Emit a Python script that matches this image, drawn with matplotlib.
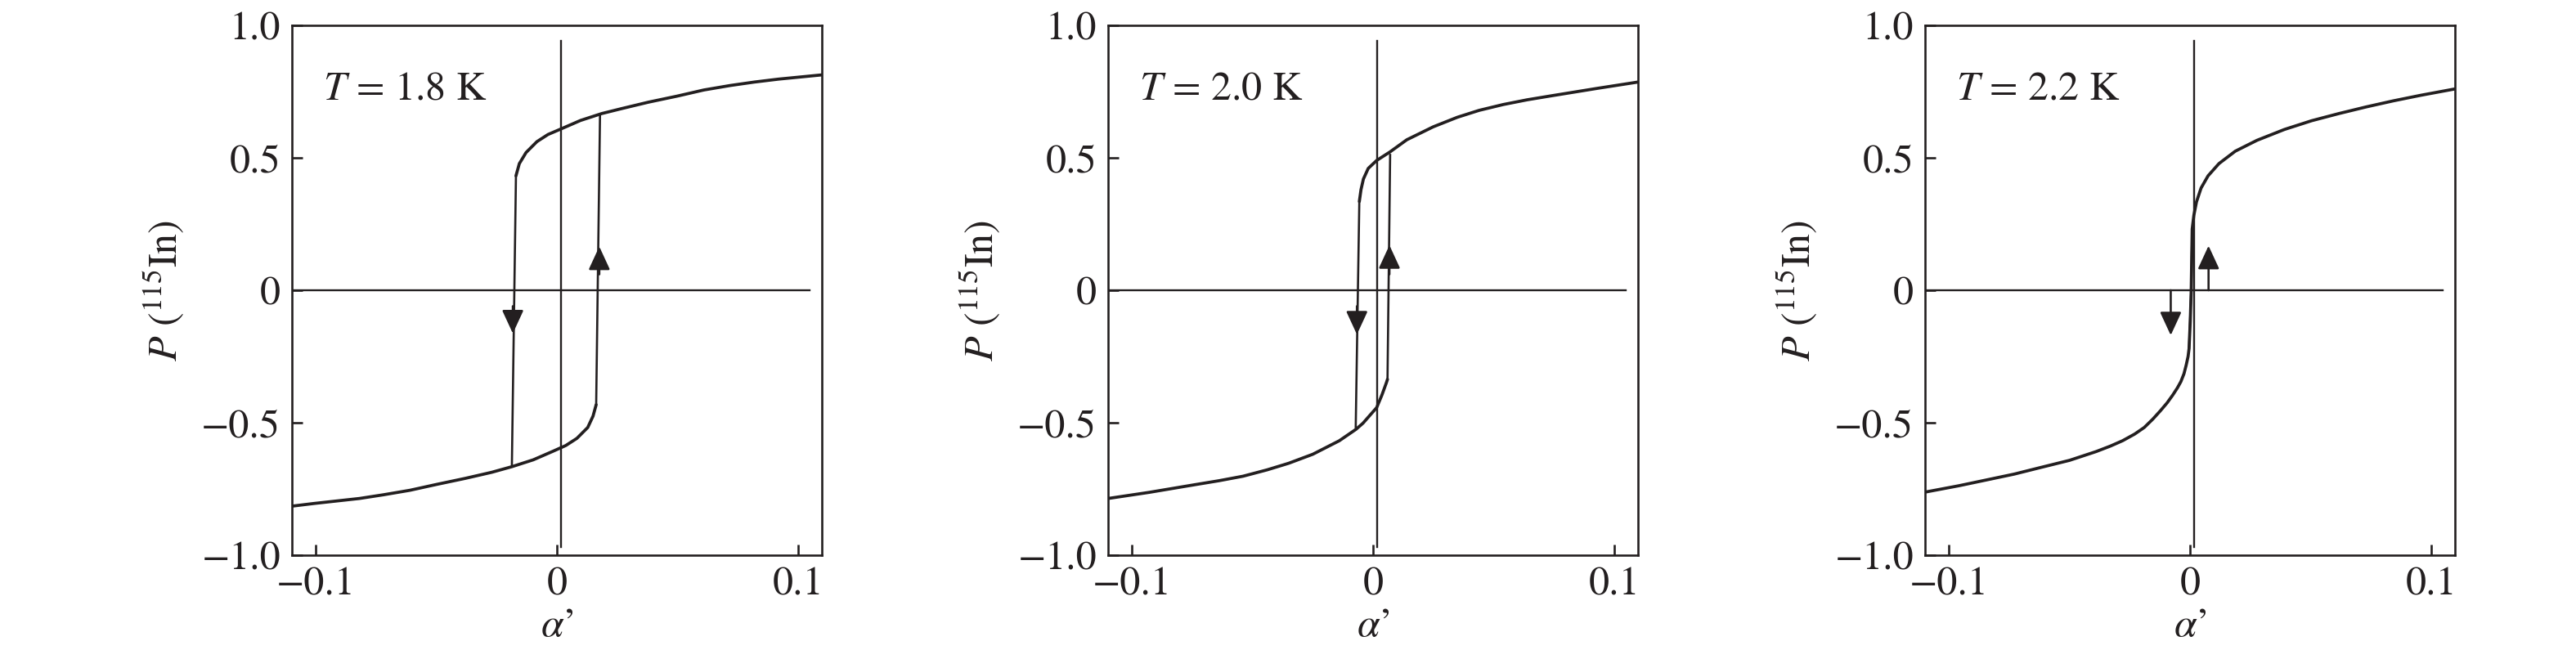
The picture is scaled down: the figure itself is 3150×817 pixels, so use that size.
import matplotlib
matplotlib.use("Agg")
import matplotlib.pyplot as plt

plt.rcParams["font.family"] = ["STIXGeneral", "DejaVu Sans"]
plt.rcParams["mathtext.fontset"] = "stix"

ink = "#231f20"

# --- Дані ---
temps = ["1.8", "2.0", "2.2"]

# гілка, що спадає (з P>0 до P<0); остання точка - кінець стрибка
down_x = [
    [0.110, 0.101, 0.092, 0.082, 0.072, 0.061, 0.050, 0.038, 0.027, 0.0186,
     0.0098, 0.0017, -0.0037, -0.0083, -0.0128, -0.0156, -0.0170, -0.0187],
    [0.110, 0.093, 0.074, 0.064, 0.054, 0.044, 0.035, 0.025, 0.014, 0.007, 0.0015,
     -0.0020, -0.0040, -0.0050, -0.0057, -0.0072],
    [0.110, 0.0958, 0.0844, 0.0731, 0.0618, 0.0505, 0.0392, 0.0278, 0.0188,
     0.0120, 0.0075, 0.0046, 0.0027, 0.0016, 0.0009, 0.0005, -0.0004],
]
down_y = [
    [0.813, 0.805, 0.797, 0.786, 0.773, 0.756, 0.733, 0.710, 0.686, 0.667,
     0.641, 0.609, 0.588, 0.561, 0.520, 0.478, 0.432, -0.666],
    [0.786, 0.762, 0.734, 0.719, 0.701, 0.679, 0.653, 0.617, 0.568, 0.522, 0.490,
     0.460, 0.420, 0.380, 0.335, -0.521],
    [0.760, 0.736, 0.715, 0.692, 0.667, 0.640, 0.607, 0.566, 0.525,
     0.478, 0.432, 0.386, 0.334, 0.283, 0.231, 0.0, -0.221],
]
# гілка, що зростає (з P<0 до P>0)
up_x = [
    [-0.110, -0.101, -0.092, -0.082, -0.072, -0.061, -0.050, -0.038, -0.027, -0.0187,
     -0.0098, -0.0017, 0.0037, 0.0083, 0.0128, 0.0150, 0.0163, 0.0179],
    [-0.110, -0.093, -0.074, -0.064, -0.054, -0.044, -0.035, -0.025, -0.014, -0.0071,
     -0.0042, 0.0015, 0.0037, 0.0055, 0.0060, 0.0071],
    [-0.110, -0.096, -0.085, -0.073, -0.062, -0.050, -0.039, -0.033, -0.028,
     -0.023, -0.019, -0.0155, -0.0123, -0.0095, -0.0072, -0.0052, -0.0038,
     -0.0025, -0.0016, -0.0008, -0.0004, 0.0001, 0.0005, 0.0009],
]
up_y = [
    [-0.815, -0.805, -0.796, -0.786, -0.772, -0.755, -0.733, -0.710, -0.687, -0.666,
     -0.640, -0.608, -0.586, -0.559, -0.518, -0.475, -0.432, 0.665],
    [-0.786, -0.763, -0.734, -0.719, -0.702, -0.678, -0.653, -0.619, -0.568, -0.525,
     -0.502, -0.443, -0.395, -0.350, -0.336, 0.515],
    [-0.762, -0.738, -0.717, -0.694, -0.669, -0.642, -0.609, -0.588, -0.568,
     -0.543, -0.518, -0.487, -0.455, -0.425, -0.396, -0.368, -0.345,
     -0.315, -0.283, -0.250, -0.221, -0.118, 0.0, 0.231],
]

# стрілки: x, початок, вістря
arr_down = [(-0.0183, -0.06, -0.163), (-0.0067, -0.06, -0.167), (-0.0080, 0.0, -0.170)]
arr_up = [(0.0176, 0.06, 0.165), (0.0068, 0.06, 0.170), (0.0077, 0.0, 0.168)]

xticks = [-0.1, 0, 0.1]
xlabels = ["\u22120.1", "0", "0.1"]
yticks = [-1.0, -0.5, 0, 0.5, 1.0]
ylabels = ["\u22121.0", "\u22120.5", "0", "0.5", "1.0"]

fig = plt.figure(figsize=(31.5, 8.17), dpi=100)
lefts = [357, 1355, 2354]
W, H = 3150, 817

for i, T in enumerate(temps):
    ax = fig.add_axes([lefts[i] / W, (H - 679) / H, 648 / W, 648 / H])
    ax.set_xlim(-0.11, 0.11)
    ax.set_ylim(-1.0, 1.0)

    # осі координат
    ax.plot([-0.11, 0.105], [0, 0], color=ink, lw=1.7)
    ax.plot([0.0016, 0.0016], [-0.97, 0.942], color=ink, lw=1.7)

    # плавні частини гілок та вертикальні стрибки
    for bx, by in ((down_x[i], down_y[i]), (up_x[i], up_y[i])):
        ax.plot(bx[:-1], by[:-1], color=ink, lw=2.7,
                solid_joinstyle="round", solid_capstyle="round")
        ax.plot(bx[-2:], by[-2:], color=ink, lw=1.9, solid_capstyle="butt")

    for ax_x, y0, y1 in (arr_down[i], arr_up[i]):
        ax.annotate("", xy=(ax_x, y1), xytext=(ax_x, y0),
                    arrowprops=dict(arrowstyle="-|>,head_length=0.65,head_width=0.3",
                                    mutation_scale=27, color=ink, lw=1.9,
                                    shrinkA=0, shrinkB=0))

    ax.text(0.058, 0.86, rf"$T$ = {T} K", transform=ax.transAxes,
            fontsize=36, color=ink, ha="left", va="baseline")

    ax.set_xticks(xticks, labels=xlabels)
    ax.set_yticks(yticks, labels=ylabels)
    ax.tick_params(direction="in", length=9.5, width=1.9, labelsize=36,
                   colors=ink, pad=10)
    for s in ax.spines.values():
        s.set_linewidth(1.9)
        s.set_color(ink)

    ax.set_xlabel(r"$\alpha$’", fontsize=36, color=ink, labelpad=4)
    ax.set_ylabel(r"$P$ ($^{115}$In)", fontsize=36, color=ink, labelpad=14)

fig.savefig("out.png", dpi=100)
